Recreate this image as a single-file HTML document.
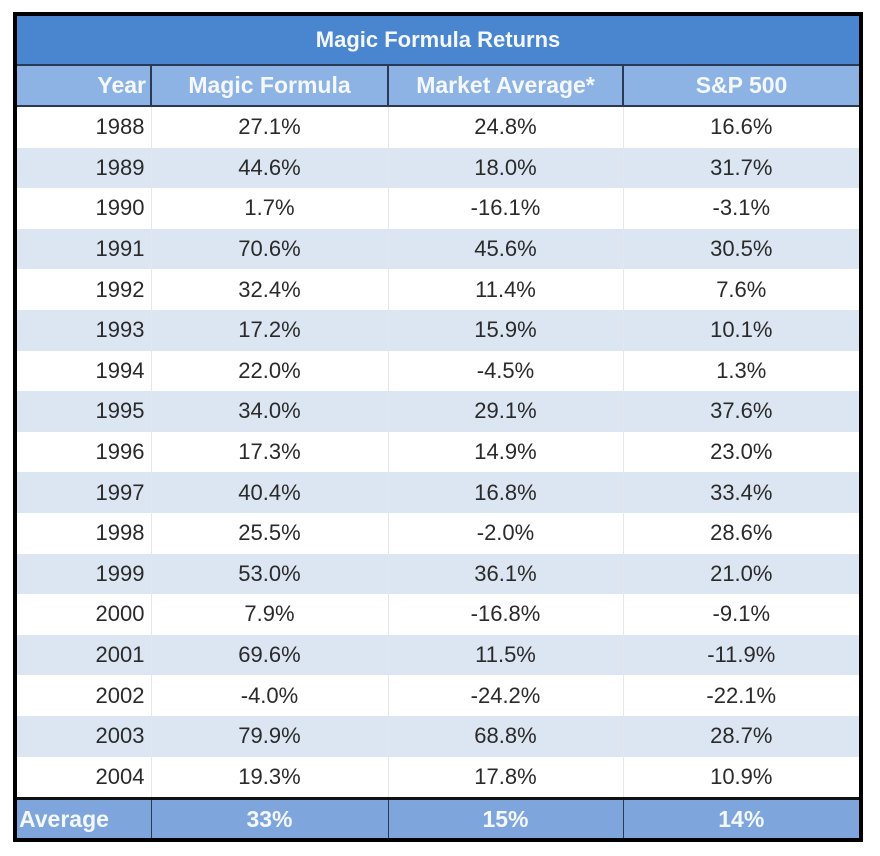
<!DOCTYPE html>
<html><head><meta charset="utf-8"><style>
body{margin:0;background:#fff;width:880px;height:856px;overflow:hidden;font-family:"Liberation Sans",sans-serif;}
#wrap{position:absolute;left:13px;top:12px;width:842px;height:822px;border:4px solid #000;}
table{border-collapse:collapse;width:842px;table-layout:fixed;}
td,th{padding:0;font-size:22px;color:#2a2a2a;text-align:center;font-weight:normal;}
tr.row td{height:40.6px;border-right:1px solid #e4e8ee;}
tr.row td:last-child{border-right:none;}
tr.alt td{background:#dce6f2;}
td.yr{text-align:right;padding-right:6px;}
tr.title th{height:48px;background:#4a86d0;color:#f4f8fc;font-weight:bold;font-size:22px;border-bottom:2px solid #2a3a55;}
tr.head th{height:39px;background:#8cb3e3;color:#f4f8fc;font-weight:bold;font-size:23px;border-right:2px solid #2a3a55;border-bottom:2px solid #2a3a55;}
tr.head th:last-child{border-right:none;}
tr.head th.yr{text-align:right;padding-right:4px;}
tr.avg td{height:38px;background:#7ea6dc;color:#f4f8fc;font-weight:bold;font-size:23px;border-top:3px solid #111;border-right:1px solid #2a3a55;}
tr.avg td:last-child{border-right:none;}
</style></head><body>
<div id="wrap">
<table>
<colgroup><col style="width:134px"><col style="width:237px"><col style="width:235px"><col style="width:236px"></colgroup>
<tr class="title"><th colspan="4">Magic Formula Returns</th></tr>
<tr class="head">
<th class="yr">Year</th>
<th>Magic Formula</th>
<th>Market Average*</th>
<th>S&amp;P 500</th></tr>
<tbody id="body"></tbody>
<tr class="avg">
<td style="text-align:left;padding-left:2px">Average</td>
<td>33%</td>
<td>15%</td>
<td>14%</td></tr>
</table></div>
<script>
const years=[1988,1989,1990,1991,1992,1993,1994,1995,1996,1997,1998,1999,2000,2001,2002,2003,2004];
const magic=["27.1%","44.6%","1.7%","70.6%","32.4%","17.2%","22.0%","34.0%","17.3%","40.4%","25.5%","53.0%","7.9%","69.6%","-4.0%","79.9%","19.3%"];
const market=["24.8%","18.0%","-16.1%","45.6%","11.4%","15.9%","-4.5%","29.1%","14.9%","16.8%","-2.0%","36.1%","-16.8%","11.5%","-24.2%","68.8%","17.8%"];
const sp=["16.6%","31.7%","-3.1%","30.5%","7.6%","10.1%","1.3%","37.6%","23.0%","33.4%","28.6%","21.0%","-9.1%","-11.9%","-22.1%","28.7%","10.9%"];
const body=document.getElementById('body');
years.forEach((y,i)=>{
  const tr=document.createElement('tr');
  tr.className='row'+(i%2?' alt':'');
  
  
  const vals=[y,magic[i],market[i],sp[i]];
  const names=['year','magic-formula','market-average','sp500'];
  vals.forEach((v,j)=>{
    const td=document.createElement('td');
    if(j===0)td.className='yr';
    td.textContent=v;
    
    
    tr.appendChild(td);
  });
  body.appendChild(tr);
});
</script>
</body></html>
